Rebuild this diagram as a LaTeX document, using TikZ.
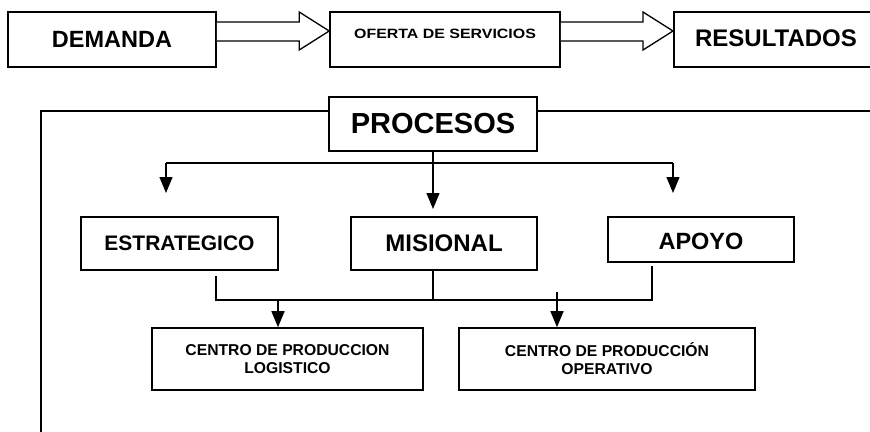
\documentclass[tikz,border=0pt]{standalone}
\usepackage{fontspec}
\setmainfont{Liberation Sans}
\usetikzlibrary{arrows.meta,calc}
\begin{document}
\begin{tikzpicture}[x=1pt,y=-1pt,
  box/.style={draw,line width=1.6pt,inner sep=0pt,align=center,fill=white},
  conn/.style={line width=1.4pt},
  arr/.style={conn,-{Triangle[length=16pt,width=13pt]}},
  blockarrow/.style={line width=1.3pt,line join=miter,fill=white},
  big/.style={font=\bfseries\fontsize{23.5}{28}\selectfont},
  mid/.style={font=\bfseries\fontsize{21}{25}\selectfont},
  small/.style={font=\bfseries\fontsize{15.7}{18}\selectfont},
  tiny/.style={font=\bfseries\fontsize{13.5}{16}\selectfont}
]
\useasboundingbox (0,0) rectangle (870,431);
\clip (0,0) rectangle (870,431);

% top row
\node[box,big,minimum width=208pt,minimum height=55pt] (dem) at (112,39.5) {DEMANDA};
\node[box,minimum width=230pt,minimum height=55pt] (ofe) at (445,39.5) {};
\node[tiny] (ofet) at ($(ofe.center)+(0,-5.5)$) {\scalebox{1.18}[1]{OFERTA DE SERVICIOS}};
\node[box,font=\bfseries\fontsize{24}{28}\selectfont,minimum width=220pt,minimum height=55pt,anchor=west] (res) at (673,39.5) {};
\node[font=\bfseries\fontsize{24}{28}\selectfont] (rest) at (776,38) {RESULTADOS};

% block arrows
\coordinate (a1s) at (dem.east |- 0,31.5);
\coordinate (a1e) at (ofe.west |- 0,31);
\draw[blockarrow] ($(a1s)+(0,-9.5)$) -- ($(a1e)+(-30,-9)$) -- ($(a1e)+(-30,-19)$) -- (a1e)
  -- ($(a1e)+(-30,19)$) -- ($(a1e)+(-30,10)$) -- ($(a1s)+(0,9.5)$);
\coordinate (a2s) at (ofe.east |- 0,31.5);
\coordinate (a2e) at (res.west |- 0,31);
\draw[blockarrow] ($(a2s)+(0,-9.5)$) -- ($(a2e)+(-30,-9)$) -- ($(a2e)+(-30,-19)$) -- (a2e)
  -- ($(a2e)+(-30,19)$) -- ($(a2e)+(-30,10)$) -- ($(a2s)+(0,9.5)$);

% frame
\coordinate (fbl) at (41,440);
\coordinate (ftl) at (41,111);
\coordinate (ftr) at (880,111);
\draw[conn] (fbl) -- (ftl) -- (ftr);

\node[box,font=\bfseries\fontsize{29}{34}\selectfont,minimum width=208pt,minimum height=54pt] (proc) at (433,124) {PROCESOS};

% process boxes
\node[box,mid,minimum width=197pt,minimum height=53pt] (est) at (179.5,243.5) {ESTRATEGICO};
\node[box,font=\bfseries\fontsize{24}{28}\selectfont,minimum width=186pt,minimum height=53pt] (mis) at (444,243.5) {MISIONAL};
\node[box,minimum width=186pt,minimum height=45pt] (apo) at (701,239.5) {};
\node[big] (apot) at (701,241.5) {APOYO};

% distribution from PROCESOS
\coordinate (bl) at (166,163);
\coordinate (bc) at (433,163);
\coordinate (br) at (673,163);
\draw[conn] (bl) -- (br);
\draw[arr] (bl) -- (166,193);
\draw[arr] (br) -- (673,193);
\draw[arr] (proc.south -| bc) -- (433,209);

% centres
\node[box,small,minimum width=271pt,minimum height=62pt] (log) at (287.5,359) {CENTRO DE PRODUCCION\\LOGISTICO};
\node[box,small,minimum width=296pt,minimum height=62pt] (ope) at (607,359) {CENTRO DE PRODUCCIÓN\\OPERATIVO};

% collector
\coordinate (cl) at (216,300);
\coordinate (cc) at (433,300);
\coordinate (cr) at (652,300);
\draw[conn] (216,276) -- (cl) -- (cr) -- (652,266);
\draw[conn] (mis.south -| cc) -- (cc);
\draw[arr] (278,300) -- (log.north -| 278,0);
\draw[arr] (557,292) -- (ope.north -| 557,0);
\end{tikzpicture}
\end{document}
